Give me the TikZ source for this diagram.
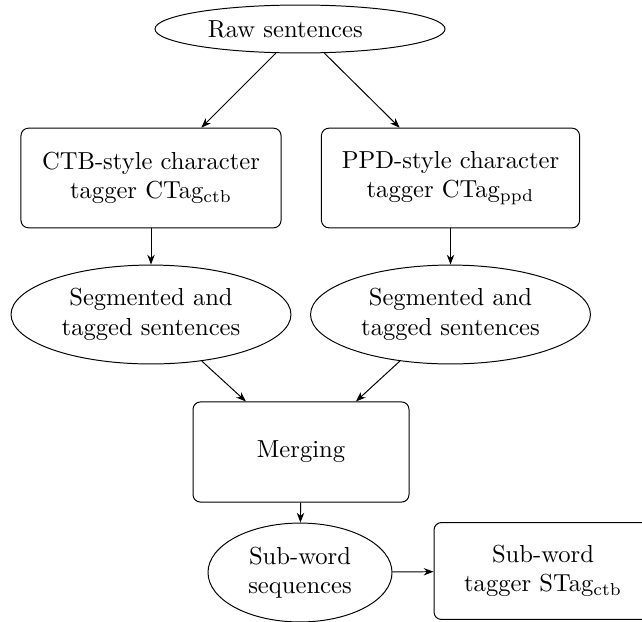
\documentclass[tikz,border=0pt]{standalone}
\usetikzlibrary{shapes.geometric,arrows.meta}
\begin{document}
\begin{tikzpicture}[x=0.4065pt,y=-0.4065pt,
  ell/.style={draw,ellipse,inner sep=0pt,align=center},
  rbox/.style={draw,rectangle,rounded corners=3pt,inner sep=0pt,align=center},
  conn/.style={-{Stealth[length=4pt,width=3pt]}}]
\useasboundingbox (0,0) rectangle (642,621);
\clip (0,0) rectangle (642,621);
\node[ell,minimum width=117.9pt,minimum height=19.5pt] (raw) at (300,29) {Raw sentences\hspace{12pt}};
\node[rbox,minimum width=105.7pt,minimum height=40.5pt] (ctb) at (151,178) {CTB-style character\\tagger CTag$_{\mathrm{ctb}}$};
\node[rbox,minimum width=104.9pt,minimum height=40.5pt] (ppd) at (450.5,178) {PPD-style character\\tagger CTag$_{\mathrm{ppd}}$};
\node[ell,minimum width=113.8pt,minimum height=40.2pt] (seg1) at (151,314.5) {Segmented and\\tagged sentences};
\node[ell,minimum width=113.8pt,minimum height=40.2pt] (seg2) at (450.5,314.5) {Segmented and\\tagged sentences};
\node[rbox,minimum width=87.8pt,minimum height=40.7pt] (merge) at (301,452) {Merging};
\node[ell,minimum width=74.8pt,minimum height=40.2pt] (sub) at (300,572.5) {Sub-word\hspace{3pt}\\sequences\hspace{3pt}};
\node[rbox,minimum width=88.6pt,minimum height=39.4pt] (stag) at (543,571) {Sub-word\\tagger STag$_{\mathrm{ctb}}$};
\draw[conn] (raw) -- (ctb);
\draw[conn] (raw) -- (ppd);
\draw[conn] (ctb) -- (seg1);
\draw[conn] (ppd) -- (seg2);
\draw[conn] (seg1) -- (merge);
\draw[conn] (seg2) -- (merge);
\draw[conn] (merge) -- (sub);
\draw[conn] (sub) -- (stag);
\end{tikzpicture}
\end{document}
